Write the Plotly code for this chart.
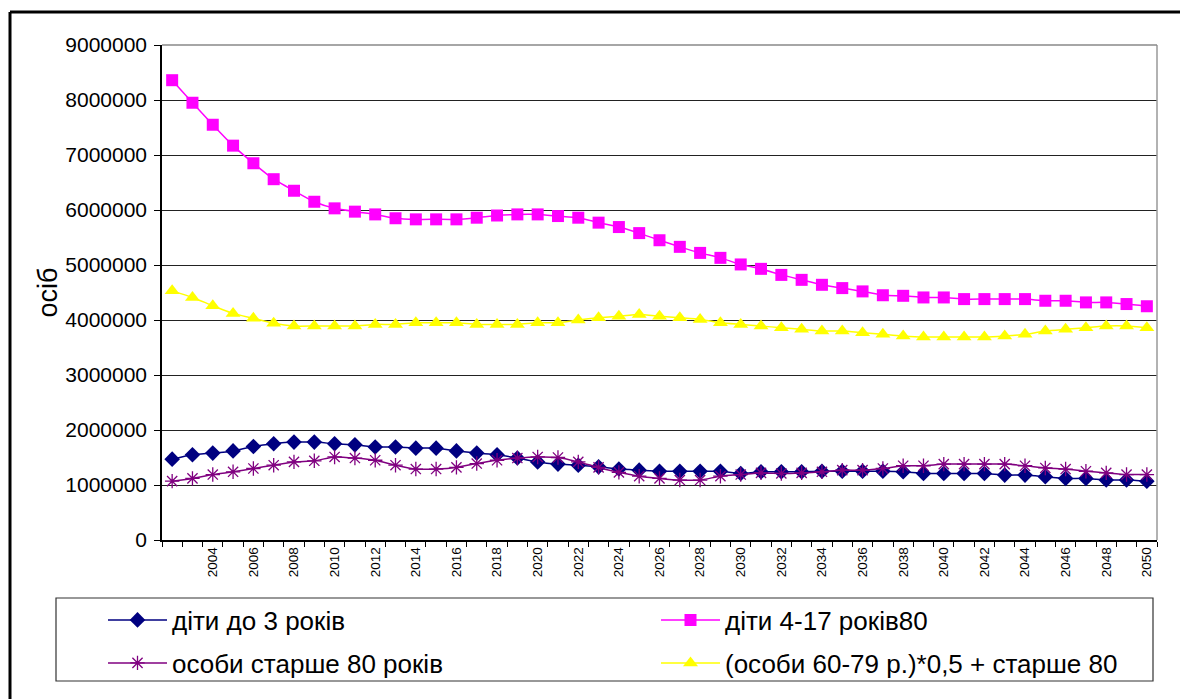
import plotly.graph_objects as go

years = list(range(2002, 2051))

kids_0_3 = [1.47, 1.55, 1.58, 1.62, 1.70, 1.75, 1.78, 1.78, 1.75, 1.73,
            1.69, 1.69, 1.67, 1.67, 1.62, 1.58, 1.55, 1.49, 1.42, 1.38,
            1.36, 1.33, 1.29, 1.27, 1.25, 1.25, 1.25, 1.25, 1.21, 1.24,
            1.24, 1.24, 1.25, 1.25, 1.25, 1.25, 1.24, 1.21, 1.21, 1.21,
            1.21, 1.18, 1.18, 1.15, 1.12, 1.12, 1.09, 1.09, 1.07]

kids_4_17 = [8.36, 7.95, 7.55, 7.17, 6.85, 6.56, 6.35, 6.15, 6.03, 5.97,
             5.92, 5.85, 5.83, 5.83, 5.83, 5.86, 5.90, 5.92, 5.92, 5.89,
             5.86, 5.77, 5.69, 5.58, 5.45, 5.33, 5.22, 5.13, 5.01, 4.93,
             4.82, 4.73, 4.64, 4.58, 4.52, 4.45, 4.44, 4.41, 4.41, 4.38,
             4.38, 4.38, 4.38, 4.35, 4.35, 4.32, 4.32, 4.29, 4.25]

over_80 = [1.07, 1.12, 1.19, 1.24, 1.30, 1.36, 1.42, 1.44, 1.51, 1.49,
           1.45, 1.36, 1.29, 1.29, 1.32, 1.39, 1.45, 1.49, 1.51, 1.50,
           1.42, 1.32, 1.23, 1.16, 1.12, 1.09, 1.09, 1.16, 1.19, 1.22,
           1.21, 1.22, 1.24, 1.27, 1.27, 1.30, 1.35, 1.35, 1.38, 1.38,
           1.38, 1.38, 1.35, 1.31, 1.29, 1.25, 1.22, 1.19, 1.19]

combined = [4.53, 4.41, 4.26, 4.12, 4.03, 3.94, 3.89, 3.89, 3.89, 3.89,
            3.92, 3.92, 3.95, 3.95, 3.95, 3.92, 3.92, 3.92, 3.95, 3.95,
            4.00, 4.04, 4.07, 4.10, 4.07, 4.04, 4.01, 3.95, 3.92, 3.89,
            3.86, 3.83, 3.80, 3.80, 3.77, 3.74, 3.71, 3.69, 3.69, 3.69,
            3.69, 3.71, 3.74, 3.80, 3.83, 3.86, 3.89, 3.89, 3.86]

label_years = list(range(2004, 2051, 2))
y_ticks = list(range(0, 9000001, 1000000))

names = ["діти до 3 років", "діти 4-17 років80",
         "особи старше 80 років", "(особи 60-79 р.)*0,5 + старше 80"]

FONT = "Arial, Liberation Sans, sans-serif"

def mil(v):
    return [x * 1e6 for x in v]

fig = go.Figure()
fig.add_trace(go.Scatter(
    x=years, y=mil(kids_0_3), name=names[0], mode="lines+markers", showlegend=True,
    line=dict(color="#000080", width=1.5, shape="spline", smoothing=0.5),
    marker=dict(symbol="diamond", size=12, color="#000080"), legend="legend"))
fig.add_trace(go.Scatter(
    x=years, y=mil(kids_4_17), name=names[1], mode="lines+markers", showlegend=True,
    line=dict(color="#FF00FF", width=1.5, shape="spline", smoothing=0.5),
    marker=dict(symbol="square", size=12, color="#FF00FF"), legend="legend2"))
fig.add_trace(go.Scatter(
    x=years, y=mil(over_80), name=names[2], mode="lines+markers", showlegend=True,
    line=dict(color="#800080", width=1.5, shape="spline", smoothing=0.5),
    marker=dict(symbol="asterisk-open", size=12,
                line=dict(color="#800080", width=1.3)), legend="legend3"))
fig.add_trace(go.Scatter(
    x=years, y=mil(combined), name=names[3], mode="lines+markers", showlegend=True,
    line=dict(color="#FFFF00", width=1.5, shape="spline", smoothing=0.5),
    marker=dict(symbol="triangle-up", size=13, color="#FFFF00"), legend="legend4"))

L, R, T, B = 162, 23, 45, 159
W, H = 1180, 699
pw, ph = W - L - R, H - T - B

def px_x(x):
    return (x - L) / pw

def px_y(y):
    return (H - B - y) / ph

legend_common = dict(orientation="h", font=dict(family=FONT, size=26, color="#000"),
                     bgcolor="rgba(0,0,0,0)", borderwidth=0, itemwidth=59,
                     xanchor="left", yanchor="middle", visible=True)

col1, col2 = 103, 656
row1, row2 = 620, 663

fig.update_layout(
    width=W, height=H, showlegend=True,
    margin=dict(l=L, r=R, t=T, b=B, pad=0),
    paper_bgcolor="white", plot_bgcolor="white",
    font=dict(family=FONT, color="#000"),
    xaxis=dict(range=[2001.5, 2050.5], tickmode="array", tickvals=label_years,
               ticktext=[str(y) for y in label_years], tickangle=-90,
               tickfont=dict(family=FONT, size=13.5), ticks="", showgrid=False,
               showline=True, linecolor="#000", linewidth=1.5, zeroline=False,
               minor=dict(tickmode="array", tickvals=[y - 0.5 for y in years] + [years[-1] + 0.5],
                          ticks="outside", ticklen=5, tickcolor="#000", showgrid=False)),
    yaxis=dict(range=[0, 9000000], tickmode="array", tickvals=y_ticks,
               ticktext=[str(v) for v in y_ticks],
               tickfont=dict(family=FONT, size=21), ticks="outside", ticklen=6,
               tickcolor="#000", showgrid=True, gridcolor="#222", gridwidth=1,
               showline=True, linecolor="#000", linewidth=1.5, zeroline=False,
               title=dict(text="осіб", font=dict(family=FONT, size=27), standoff=0),
               ticklabelstandoff=3),
    legend=dict(x=px_x(col1), y=px_y(row1), **legend_common),
    legend2=dict(x=px_x(col2), y=px_y(row1), **legend_common),
    legend3=dict(x=px_x(col1), y=px_y(row2), **legend_common),
    legend4=dict(x=px_x(col2), y=px_y(row2), **legend_common),
    shapes=[
        dict(type="line", xref="paper", yref="paper", x0=1, x1=1, y0=0, y1=1,
             line=dict(color="#999", width=1.5)),
        dict(type="line", xref="paper", yref="paper", x0=0, x1=1, y0=1, y1=1,
             line=dict(color="#888", width=1.5)),
        dict(type="rect", xref="paper", yref="paper", x0=px_x(56), x1=px_x(1153),
             y0=px_y(681), y1=px_y(598), line=dict(color="#333", width=1.2)),
        dict(type="line", xref="paper", yref="paper", x0=px_x(10), x1=px_x(1200),
             y0=px_y(12), y1=px_y(12), line=dict(color="#000", width=3)),
        dict(type="line", xref="paper", yref="paper", x0=px_x(10), x1=px_x(10),
             y0=px_y(12), y1=px_y(720), line=dict(color="#000", width=3)),
    ],
)

fig.write_html("out.html", config={"displayModeBar": False},
               post_script="document.body.style.margin='0';")
